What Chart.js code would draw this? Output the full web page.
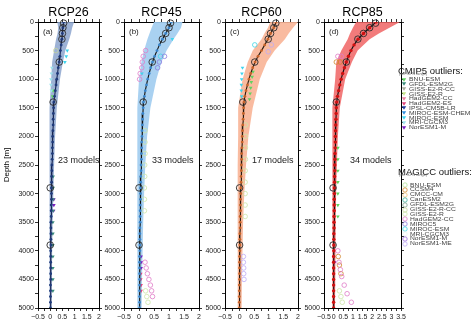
<!DOCTYPE html>
<html><head><meta charset="utf-8">
<script src="https://cdn.jsdelivr.net/npm/chart.js@4.4.1/dist/chart.umd.min.js"></script>
<style>
html,body{margin:0;padding:0;background:#fff;}
#wrap{position:relative;width:472px;height:329px;overflow:hidden;font-family:"Liberation Sans",Arial,sans-serif;background:#fff;}
#wrap canvas{position:absolute;left:0;top:0;}
.lg{position:absolute;white-space:nowrap;color:#333;line-height:1;}
</style></head><body>
<div id="wrap">
<canvas id="c0" width="472" height="329"></canvas>
<canvas id="c1" width="472" height="329"></canvas>
<canvas id="c2" width="472" height="329"></canvas>
<canvas id="c3" width="472" height="329"></canvas>
</div>
<script>
// ---------------- DATA ----------------
const panelTitles = ['RCP26','RCP45','RCP60','RCP85'];
const panelLetters = ['(a)','(b)','(c)','(d)'];
const modelCounts = ['23 models','33 models','17 models','34 models'];
const xMaxes = [2, 2, 2, 3.5];
const yTickLabels = [0,500,1000,1500,2000,2500,3000,3500,4000,4500,5000];

const depthLevels = [0,100,200,300,400,500,600,700,800,900,1000,1100,1200,1300,1400,1500,1600,1700,1800,1900,2000,2100,2200,2300,2400,2500,2600,2700,2800,2900,3000,3100,3200,3300,3400,3500,3600,3700,3800,3900,4000,4100,4200,4300,4400,4500,4600,4700,4800,4900,5000];

const meanRCP26 = [0.55,0.52,0.50,0.48,0.45,0.42,0.40,0.37,0.33,0.30,0.27,0.24,0.21,0.18,0.15,0.14,0.13,0.12,0.12,0.11,0.10,0.10,0.09,0.09,0.08,0.07,0.07,0.06,0.06,0.05,0.05,0.05,0.04,0.04,0.04,0.03,0.03,0.03,0.03,0.03,0.02,0.02,0.02,0.02,0.02,0.02,0.01,0.01,0.01,0.01,0.01];
const meanRCP45 = [1.07,1.00,0.89,0.78,0.68,0.60,0.52,0.45,0.39,0.34,0.29,0.25,0.21,0.18,0.15,0.14,0.13,0.12,0.11,0.10,0.10,0.09,0.09,0.08,0.08,0.07,0.07,0.06,0.06,0.05,0.05,0.05,0.04,0.04,0.04,0.04,0.03,0.03,0.03,0.03,0.03,0.02,0.02,0.02,0.02,0.02,0.02,0.02,0.02,0.02,0.02];
const meanRCP60 = [1.25,1.17,1.06,0.97,0.86,0.75,0.63,0.53,0.45,0.38,0.32,0.27,0.22,0.18,0.15,0.14,0.13,0.12,0.11,0.10,0.09,0.09,0.08,0.07,0.07,0.06,0.06,0.05,0.05,0.04,0.04,0.03,0.03,0.03,0.02,0.02,0.02,0.01,0.01,0.01,0.01,0.00,0.00,0.00,0.00,0.00,-0.01,-0.01,-0.01,-0.01,-0.01];
const meanRCP85 = [2.20,1.87,1.55,1.27,1.06,0.90,0.77,0.66,0.56,0.47,0.39,0.32,0.26,0.20,0.16,0.14,0.13,0.12,0.11,0.10,0.09,0.09,0.08,0.07,0.07,0.06,0.06,0.05,0.05,0.04,0.04,0.03,0.03,0.03,0.02,0.02,0.02,0.01,0.01,0.01,0.01,0.00,0.00,0.00,0.00,0.00,0.00,0.00,0.00,0.00,0.00];

const bandDepths = [0,100,200,300,500,700,1000,1500,2000,2500,3000,3500,4000,4500,5000];
const lowRCP26  = [0.29,0.33,0.30,0.24,0.16,0.08,0.04,-0.02,-0.02,-0.03,-0.03,-0.03,-0.03,-0.03,-0.03];
const highRCP26 = [0.98,0.90,0.85,0.78,0.62,0.52,0.40,0.27,0.20,0.16,0.13,0.10,0.08,0.07,0.06];
const lowRCP45  = [0.50,0.42,0.35,0.28,0.17,0.08,0.00,-0.04,-0.05,-0.06,-0.06,-0.06,-0.06,-0.06,-0.06];
const highRCP45 = [1.45,1.40,1.28,1.15,0.92,0.75,0.58,0.38,0.27,0.21,0.17,0.14,0.12,0.10,0.09];
const lowRCP60  = [1.05,0.97,0.85,0.75,0.45,0.28,0.10,-0.05,-0.05,-0.06,-0.06,-0.07,-0.07,-0.07,-0.08];
const highRCP60 = [2.00,1.83,1.68,1.55,1.20,0.93,0.69,0.45,0.30,0.22,0.16,0.12,0.10,0.08,0.07];
const lowRCP85  = [1.17,1.00,0.85,0.73,0.40,0.14,0.08,-0.05,-0.06,-0.06,-0.07,-0.07,-0.07,-0.08,-0.08];
const highRCP85 = [3.45,2.90,2.35,1.87,1.25,0.95,0.60,0.32,0.22,0.17,0.13,0.11,0.09,0.08,0.07];

const circleDepths = [20,100,200,300,700,1400,2900,3900];
const circRCP26 = [0.55,0.52,0.50,0.48,0.37,0.12,0.00,0.00];
const circRCP45 = [1.05,1.00,0.89,0.78,0.44,0.14,0.00,0.00];
const circRCP60 = [1.24,1.17,1.06,0.98,0.52,0.11,0.00,0.00];
const circRCP85 = [2.18,1.87,1.55,1.26,0.66,0.14,-0.03,-0.03];

const cmipModels = ['BNU-ESM','GFDL-ESM2G','GISS-E2-R-CC','GISS-E2-R','HadGEM2-CC','HadGEM2-ES','IPSL-CM5B-LR','MIROC-ESM-CHEM','MIROC-ESM','MRI-CGCM3','NorESM1-M'];
const magiccModels = ['BNU-ESM','CCSM4','CMCC-CM','CanESM2','GFDL-ESM2G','GISS-E2-R-CC','GISS-E2-R','HadGEM2-CC','MIROC5','MIROC-ESM','MRI-CGCM3','NorESM1-M','NorESM1-ME'];

// outliers: [set, model, [[x, depth], ...]]
const outRCP26 = [
  ['cmip','MIROC-ESM',[[0.70,500],[0.66,600],[0.60,700]]],
  ['cmip','MRI-CGCM3',[[0.07,800],[0.05,900],[0.03,1000],[0.03,1100],[0.05,1200]]],
  ['cmip','BNU-ESM',[[0.12,1200],[0.10,1300]]],
  ['cmip','GFDL-ESM2G',[[0.12,2700],[0.12,2900],[0.12,3100],[0.12,3300],[0.11,3500],[0.11,3700],[0.11,3900],[0.11,4100],[0.11,4300],[0.11,4500],[0.11,4700]]],
  ['cmip','NorESM1-M',[[0.15,3100],[0.15,3200],[0.14,3300]]],
  ['magicc','GISS-E2-R-CC',[[0.23,500]]]
];
const outRCP45 = [
  ['cmip','MIROC-ESM',[[1.11,300],[0.10,900]]],
  ['cmip','NorESM1-M',[[0.07,4100],[0.07,4200],[0.07,4300]]],
  ['cmip','HadGEM2-ES',[[0.06,4400],[0.06,4500],[0.07,4600],[0.07,4700]]],
  ['magicc','HadGEM2-CC',[[0.22,500],[0.14,600],[0.11,700],[0.09,800],[0.04,900],[0.02,1000],[0.20,4200],[0.24,4300],[0.28,4400],[0.33,4500],[0.38,4600],[0.42,4700],[0.45,4800]]],
  ['magicc','MIROC5',[[0.85,600],[0.68,700],[0.62,800]]],
  ['magicc','MIROC-ESM',[[0.72,600]]],
  ['magicc','GISS-E2-R',[[0.20,1900],[0.20,2100],[0.20,2300],[0.19,2500],[0.19,2700],[0.18,2900],[0.18,3100],[0.18,3300],[0.22,4700],[0.26,4800],[0.30,4900]]]
];
const outRCP60 = [
  ['cmip','MIROC-ESM',[[0.10,800],[0.08,900],[0.07,1000],[0.06,1100],[0.06,1200],[0.07,1300]]],
  ['cmip','BNU-ESM',[[0.46,870],[0.43,960],[0.40,1050],[0.38,1150],[0.36,1250],[0.34,1350]]],
  ['magicc','MIROC-ESM',[[0.52,400]]],
  ['magicc','NorESM1-ME',[[1.09,400],[0.98,520],[0.13,4100],[0.13,4200],[0.14,4300],[0.14,4400],[0.15,4500]]],
  ['magicc','GISS-E2-R',[[0.20,1800],[0.20,2000],[0.20,2200],[0.20,2400],[0.19,2600],[0.19,2800],[0.19,3000],[0.19,3200],[0.19,3400]]]
];
const outRCP85 = [
  ['cmip','BNU-ESM',[[0.22,2200],[0.22,2400],[0.22,2600],[0.22,2800],[0.22,3000],[0.22,3200],[0.22,3400]]],
  ['cmip','NorESM1-M',[[0.05,4200]]],
  ['magicc','HadGEM2-CC',[[0.22,600],[0.40,600],[0.22,4000],[0.28,4200],[0.35,4330],[0.42,4450],[0.55,4600],[0.70,4750],[0.92,4900]]],
  ['magicc','CCSM4',[[0.14,700],[0.34,700],[0.24,4100],[0.30,4250],[0.38,4400]]],
  ['magicc','GISS-E2-R',[[0.30,4700],[0.38,4800],[0.45,4900]]]
];

// ---------------- STYLE / LAYOUT ----------------
const FONT = '"Liberation Sans", Arial, sans-serif';
const cmipColors = ['#62d262','#3b8c7c','#a6a898','#c4e488','#e87ea0','#e0457c','#1f3f9f','#2f8fdf','#3fd4ee','#9fe4ee','#7a1fbf'];
const magiccColors = ['#b4e49c','#d0862c','#f0c078','#3fb09c','#7ea08e','#c6d69c','#cde6a8','#e07cc8','#8c7ce0','#3fd6e6','#e4f2f2','#9c6ce0','#bcacf6'];
const panelBox = [ {L:38,R:99}, {L:124,R:199}, {L:225,R:298}, {L:324,R:401} ];
const TOP = 22, BOTTOM = 308, W = 472, H = 329;
const bandColors = ['rgba(140,164,206,0.85)','rgba(160,204,240,0.9)','rgba(248,180,150,0.9)','rgba(240,100,100,0.85)'];
const lineColors = ['#18254f','#111111','#2a1a10','#111111'];
const dotColors  = ['#1f3a7a','#3b86cc','#c8642a','#d01010'];
const dotSizes   = [1.4, 1.4, 1.4, 1.7];
const modelsOffset = [20,28,27,26];

const means = [meanRCP26, meanRCP45, meanRCP60, meanRCP85];
const lows = [lowRCP26, lowRCP45, lowRCP60, lowRCP85];
const highs = [highRCP26, highRCP45, highRCP60, highRCP85];
const circs = [circRCP26, circRCP45, circRCP60, circRCP85];
const outs = [outRCP26, outRCP45, outRCP60, outRCP85];

Chart.defaults.font.family = FONT;

const panelText = {
  id: 'panelText',
  afterDraw(chart, args, o) {
    const ctx = chart.ctx, a = chart.chartArea;
    ctx.save();
    ctx.fillStyle = '#000';
    ctx.textBaseline = 'middle';
    ctx.textAlign = 'center';
    ctx.font = '12.5px ' + FONT;
    ctx.fillText(o.title, (a.left + a.right) / 2, 13);
    ctx.textAlign = 'left';
    ctx.font = '8px ' + FONT;
    ctx.fillStyle = '#222';
    ctx.fillText(o.letter, a.left + 5, 32);
    ctx.font = '9px ' + FONT;
    ctx.fillText(o.models, a.left + o.mx, 161);
    ctx.restore();
  }
};

function fmtX(v) {
  const r = Math.round(v * 100) / 100;
  if (Math.abs(r * 2 - Math.round(r * 2)) > 1e-6) return '';
  if (r < 0) return '\u2212' + String(-r);
  return String(r);
}

function makePanel(i) {
  const box = panelBox[i];
  const datasets = [];
  datasets.push({
    type: 'line', showLine: false, order: 0, clip: false,
    data: circleDepths.map((d, k) => ({x: circs[i][k], y: d})),
    pointStyle: 'circle', pointRadius: 3.3, pointBorderWidth: 0.9,
    pointBorderColor: '#2a2a2a', pointBackgroundColor: 'rgba(0,0,0,0)'
  });
  datasets.push({
    type: 'line', order: 1,
    data: depthLevels.map((d, k) => ({x: means[i][k], y: d})),
    borderColor: lineColors[i], borderWidth: 1.1, tension: 0,
    pointRadius: dotSizes[i], pointBorderWidth: 0, pointBackgroundColor: dotColors[i], pointStyle: 'circle'
  });
  outs[i].forEach(([set, model, pts]) => {
    const isC = set === 'cmip';
    const col = isC ? cmipColors[cmipModels.indexOf(model)] : magiccColors[magiccModels.indexOf(model)];
    datasets.push({
      type: 'line', showLine: false, order: 2, clip: false,
      data: pts.map(p => ({x: p[0], y: p[1]})),
      pointStyle: isC ? 'triangle' : 'circle',
      pointRotation: isC ? 180 : 0,
      pointRadius: isC ? 2.1 : 2.3,
      pointBorderWidth: isC ? 0 : 0.8,
      pointBorderColor: col,
      pointBackgroundColor: isC ? col : 'rgba(0,0,0,0)'
    });
  });
  const poly = bandDepths.map((d, k) => ({x: highs[i][k], y: d}))
    .concat(bandDepths.slice().reverse().map((d, k) => ({x: lows[i][bandDepths.length - 1 - k], y: d})));
  datasets.push({
    type: 'line', order: 3, data: poly, fill: 'shape',
    backgroundColor: bandColors[i], borderWidth: 0, pointRadius: 0, tension: 0
  });

  const tickGrid = {drawOnChartArea: false, drawTicks: true, tickLength: 3, color: '#000', lineWidth: 0.8};
  const border = {display: true, color: '#000', width: 1};
  const xmax = xMaxes[i];
  const yTitle = i === 0 ? {display: true, text: 'Depth [m]', color: '#000', font: {size: 8, family: FONT}, padding: {top: 2, bottom: 0}} : {display: false};

  new Chart(document.getElementById('c' + i), {
    type: 'line',
    data: {datasets},
    plugins: [panelText],
    options: {
      responsive: false, animation: false, devicePixelRatio: 1,
      layout: {padding: 0},
      events: [],
      plugins: {
        legend: {display: false}, tooltip: {enabled: false},
        panelText: {title: panelTitles[i], letter: panelLetters[i], models: modelCounts[i], mx: modelsOffset[i]}
      },
      scales: {
        x: {
          type: 'linear', position: 'bottom', min: -0.5, max: xmax,
          afterFit: s => { s.height = H - BOTTOM; },
          ticks: {stepSize: 0.25, autoSkip: false, maxRotation: 0, padding: 2, color: '#222',
                  font: {size: 7, family: FONT}, callback: v => fmtX(v)},
          grid: tickGrid, border
        },
        x2: {
          type: 'linear', position: 'top', min: -0.5, max: xmax,
          afterFit: s => { s.height = TOP; },
          ticks: {stepSize: 0.25, autoSkip: false, display: false, callback: () => ''},
          grid: tickGrid, border
        },
        y: {
          type: 'linear', position: 'left', reverse: true, min: 0, max: 5000,
          afterFit: s => { s.width = box.L; },
          ticks: {stepSize: 250, autoSkip: false, padding: 1, color: '#222', font: {size: 7, family: FONT},
                  callback: v => (yTickLabels.includes(v) ? String(v) : '')},
          grid: tickGrid, border, title: yTitle
        },
        y2: {
          type: 'linear', position: 'right', reverse: true, min: 0, max: 5000,
          afterFit: s => { s.width = W - box.R; },
          ticks: {stepSize: 250, autoSkip: false, display: false, callback: () => ''},
          grid: tickGrid, border
        }
      }
    }
  });
}
[0,1,2,3].forEach(makePanel);

// ---------------- LEGEND (HTML text) ----------------
const wrap = document.getElementById('wrap');
function addText(txt, left, cy, size, extra) {
  const d = document.createElement('div');
  d.className = 'lg';
  d.textContent = txt;
  d.style.left = left + 'px';
  d.style.top = (cy - size / 2) + 'px';
  d.style.fontSize = size + 'px';
  if (extra) Object.assign(d.style, extra);
  wrap.appendChild(d);
  return d;
}
function marker(kind, color, cx, cy) {
  const ns = 'http://www.w3.org/2000/svg';
  const s = document.createElementNS(ns, 'svg');
  s.setAttribute('width', 6); s.setAttribute('height', 6);
  s.style.position = 'absolute'; s.style.left = (cx - 3) + 'px'; s.style.top = (cy - 3) + 'px';
  let el;
  if (kind === 'tri') {
    el = document.createElementNS(ns, 'polygon');
    el.setAttribute('points', '0.8,1.2 5.2,1.2 3,4.8');
    el.setAttribute('fill', color);
  } else {
    el = document.createElementNS(ns, 'circle');
    el.setAttribute('cx', 3); el.setAttribute('cy', 3); el.setAttribute('r', 2.2);
    el.setAttribute('fill', 'none'); el.setAttribute('stroke', color); el.setAttribute('stroke-width', 0.8);
  }
  s.appendChild(el);
  wrap.appendChild(s);
}
addText('CMIP5 outliers:', 398, 71, 9.5, {color: '#111'});
addText('(wrt 90 % range)', 399, 75.3, 3.8, {color: '#666'});
cmipModels.forEach((m, k) => {
  const cy = 79.6 + 4.8 * k;
  marker('tri', cmipColors[k], 404, cy);
  addText(m, 408.5, cy, 5, {transform: 'scaleX(1.35)', transformOrigin: '0 50%', color: '#444'});
});
addText('MAGICC outliers:', 398, 171.7, 9.5, {color: '#111'});
addText('(wrt 90 % range)', 399, 176.3, 3.8, {color: '#666'});
magiccModels.forEach((m, k) => {
  const cy = 185 + 4.9 * k;
  marker('circ', magiccColors[k], 405, cy);
  addText(m, 409.5, cy, 5, {transform: 'scaleX(1.35)', transformOrigin: '0 50%', color: '#444'});
});
</script>
</body></html>
